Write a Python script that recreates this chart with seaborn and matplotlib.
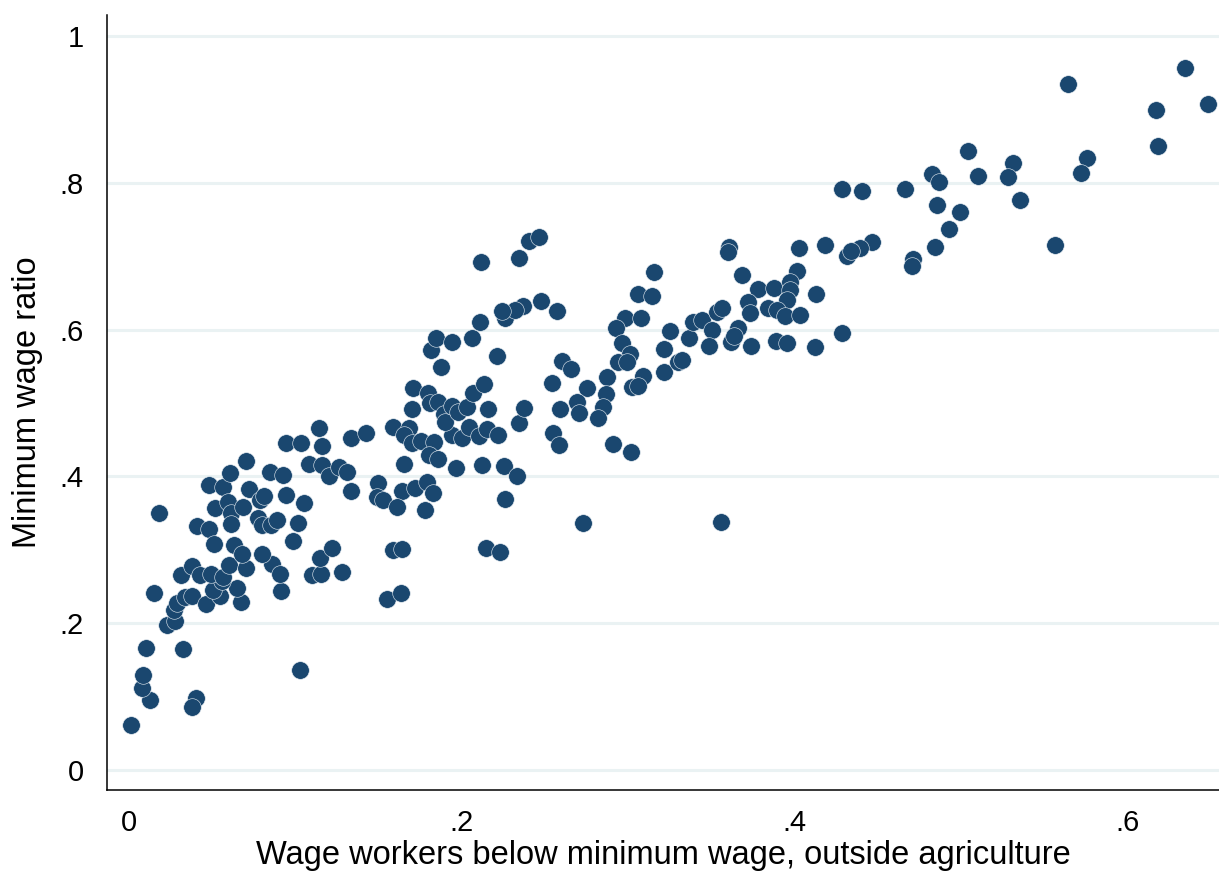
import matplotlib
matplotlib.use("Agg")
import matplotlib.pyplot as plt
import seaborn as sns
import pandas as pd

# Share of wage workers below the minimum wage (outside agriculture)
below_min = [
    0.0015, 0.0129, 0.0081, 0.0087, 0.0105, 0.0328, 0.1031, 0.0406, 0.0382, 0.0231,
    0.0279, 0.0273, 0.0291, 0.0340, 0.0382, 0.0153, 0.0466, 0.0550, 0.0676, 0.0652,
    0.0508, 0.0562, 0.0916, 0.0316, 0.0382, 0.0430, 0.0496, 0.0568, 0.0604, 0.0706,
    0.0862, 0.0910, 0.1103, 0.1157, 0.1283, 0.1151, 0.0183, 0.0412, 0.0484, 0.0514,
    0.0484, 0.0568, 0.0610, 0.0706, 0.0520, 0.0598, 0.0616, 0.0616, 0.0688, 0.0724,
    0.0790, 0.0814, 0.0778, 0.0802, 0.0856, 0.0892, 0.0850, 0.0928, 0.0947, 0.1055,
    0.1019, 0.0989, 0.0947, 0.1037, 0.1163, 0.1145, 0.1337, 0.1085, 0.1163, 0.1205,
    0.1265, 0.1313, 0.1337, 0.1223, 0.0634, 0.0682, 0.0802, 0.1427, 0.1499, 0.1493,
    0.1530, 0.1590, 0.1686, 0.1656, 0.1704, 0.1758, 0.1836, 0.1806, 0.1860, 0.1656,
    0.1968, 0.2124, 0.2257, 0.2335, 0.2263, 0.1644, 0.1722, 0.1794, 0.1830, 0.1944,
    0.2004, 0.2046, 0.2106, 0.2154, 0.2220, 0.1710, 0.1800, 0.1704, 0.1812, 0.1860,
    0.1896, 0.1902, 0.1944, 0.1980, 0.2034, 0.2070, 0.2136, 0.2160, 0.1878, 0.1818,
    0.1848, 0.1944, 0.2064, 0.2215, 0.2112, 0.2263, 0.2347, 0.2377, 0.1614, 0.1782,
    0.1590, 0.1644, 0.1553, 0.1638, 0.2148, 0.2233, 0.2118, 0.2347, 0.2407, 0.2467,
    0.3158, 0.3062, 0.3146, 0.2984, 0.3080, 0.2930, 0.3254, 0.3218, 0.3218, 0.3302,
    0.2966, 0.3014, 0.2942, 0.2996, 0.3092, 0.3026, 0.3062, 0.2876, 0.2870, 0.2852,
    0.2821, 0.2912, 0.2755, 0.2695, 0.2707, 0.2593, 0.2551, 0.2545, 0.2605, 0.2659,
    0.2575, 0.2479, 0.2371, 0.2323, 0.2245, 0.2587, 0.3020, 0.3368, 0.3326, 0.3392,
    0.3447, 0.3507, 0.3537, 0.3567, 0.3489, 0.3621, 0.3663, 0.3639, 0.3741, 0.3687,
    0.3783, 0.3879, 0.4017, 0.3975, 0.3975, 0.3957, 0.3723, 0.3735, 0.3843, 0.3897,
    0.3945, 0.4035, 0.4132, 0.4126, 0.3891, 0.3957, 0.4288, 0.4408, 0.4666, 0.4829,
    0.4871, 0.5105, 0.4859, 0.4997, 0.4931, 0.4847, 0.4715, 0.4709, 0.4468, 0.4396,
    0.4318, 0.4342, 0.4186, 0.4029, 0.3609, 0.3603, 0.4288, 0.5646, 0.6343, 0.6481,
    0.6169, 0.6181, 0.5760, 0.5724, 0.5562, 0.5310, 0.5285, 0.5352, 0.5045, 0.2731,
    0.3561,
]

# Minimum wage ratio
min_wage_ratio = [
    0.061, 0.095, 0.112, 0.129, 0.166, 0.165, 0.136, 0.098, 0.086, 0.198,
    0.203, 0.218, 0.228, 0.236, 0.237, 0.241, 0.226, 0.237, 0.229, 0.248,
    0.245, 0.257, 0.244, 0.266, 0.278, 0.266, 0.267, 0.263, 0.279, 0.275,
    0.281, 0.267, 0.266, 0.267, 0.270, 0.289, 0.350, 0.332, 0.328, 0.308,
    0.388, 0.386, 0.405, 0.421, 0.357, 0.365, 0.350, 0.335, 0.358, 0.383,
    0.368, 0.373, 0.343, 0.334, 0.334, 0.341, 0.406, 0.402, 0.375, 0.364,
    0.337, 0.312, 0.446, 0.446, 0.441, 0.466, 0.452, 0.417, 0.416, 0.401,
    0.413, 0.406, 0.380, 0.302, 0.307, 0.294, 0.294, 0.459, 0.391, 0.372,
    0.368, 0.467, 0.466, 0.456, 0.446, 0.448, 0.447, 0.429, 0.424, 0.417,
    0.411, 0.416, 0.414, 0.401, 0.369, 0.380, 0.384, 0.392, 0.377, 0.456,
    0.452, 0.467, 0.455, 0.465, 0.456, 0.520, 0.514, 0.492, 0.500, 0.501,
    0.485, 0.474, 0.496, 0.488, 0.495, 0.514, 0.526, 0.492, 0.549, 0.572,
    0.589, 0.583, 0.589, 0.564, 0.610, 0.616, 0.473, 0.493, 0.358, 0.354,
    0.300, 0.301, 0.233, 0.241, 0.302, 0.297, 0.692, 0.698, 0.721, 0.726,
    0.678, 0.649, 0.646, 0.616, 0.616, 0.602, 0.598, 0.574, 0.542, 0.556,
    0.582, 0.567, 0.556, 0.556, 0.537, 0.522, 0.523, 0.535, 0.512, 0.495,
    0.480, 0.444, 0.520, 0.501, 0.486, 0.492, 0.459, 0.527, 0.557, 0.546,
    0.625, 0.639, 0.632, 0.627, 0.625, 0.443, 0.433, 0.589, 0.559, 0.610,
    0.613, 0.599, 0.624, 0.629, 0.578, 0.583, 0.602, 0.591, 0.578, 0.674,
    0.655, 0.657, 0.680, 0.665, 0.654, 0.640, 0.638, 0.623, 0.629, 0.627,
    0.619, 0.620, 0.649, 0.576, 0.584, 0.582, 0.792, 0.789, 0.792, 0.812,
    0.801, 0.809, 0.770, 0.760, 0.737, 0.713, 0.696, 0.687, 0.719, 0.711,
    0.700, 0.707, 0.715, 0.711, 0.713, 0.706, 0.595, 0.935, 0.956, 0.907,
    0.899, 0.850, 0.834, 0.813, 0.715, 0.827, 0.808, 0.777, 0.843, 0.336,
    0.338,
]

x_ticks = [0, 0.2, 0.4, 0.6]
x_tick_labels = ["0", ".2", ".4", ".6"]
y_ticks = [0, 0.2, 0.4, 0.6, 0.8, 1.0]
y_tick_labels = ["0", ".2", ".4", ".6", ".8", "1"]

df = pd.DataFrame({"below": below_min, "ratio": min_wage_ratio})

sns.set_style("white")
plt.rcParams["font.family"] = ["Liberation Sans", "DejaVu Sans"]

fig = plt.figure(figsize=(12.19, 8.72), dpi=100)
ax = fig.add_axes([107 / 1219, 82 / 872, 1112 / 1219, 775 / 872])

# Stata-like light gridlines on the y axis only
for yt in y_ticks:
    ax.axhline(yt, color="#eaf2f3", linewidth=2.2, zorder=0)

sns.scatterplot(
    data=df, x="below", y="ratio", ax=ax,
    s=160, color="#1a476f", edgecolor="#e8eef3", linewidth=0.4, zorder=3,
)

ax.set_xlim(-0.0129, 0.655)
ax.set_ylim(-0.0272, 1.0286)

ax.set_xticks(x_ticks)
ax.set_xticklabels(x_tick_labels)
ax.set_yticks(y_ticks)
ax.set_yticklabels(y_tick_labels)
ax.tick_params(axis="both", direction="out", length=8.6, width=1.1,
               colors="black", labelsize=21)
ax.tick_params(axis="y", pad=8)
ax.tick_params(axis="x", pad=5)

for side in ["top", "right"]:
    ax.spines[side].set_visible(False)
for side in ["left", "bottom"]:
    ax.spines[side].set_color("black")
    ax.spines[side].set_linewidth(1.1)

ax.set_xlabel("Wage workers below minimum wage, outside agriculture",
              fontsize=23.5, color="black")
ax.set_ylabel("Minimum wage ratio", fontsize=23.5, color="black")
ax.xaxis.set_label_coords(0.5, -0.065)
ax.yaxis.set_label_coords(-0.058, 0.5)

fig.savefig("out.png", dpi=100, facecolor="white")
